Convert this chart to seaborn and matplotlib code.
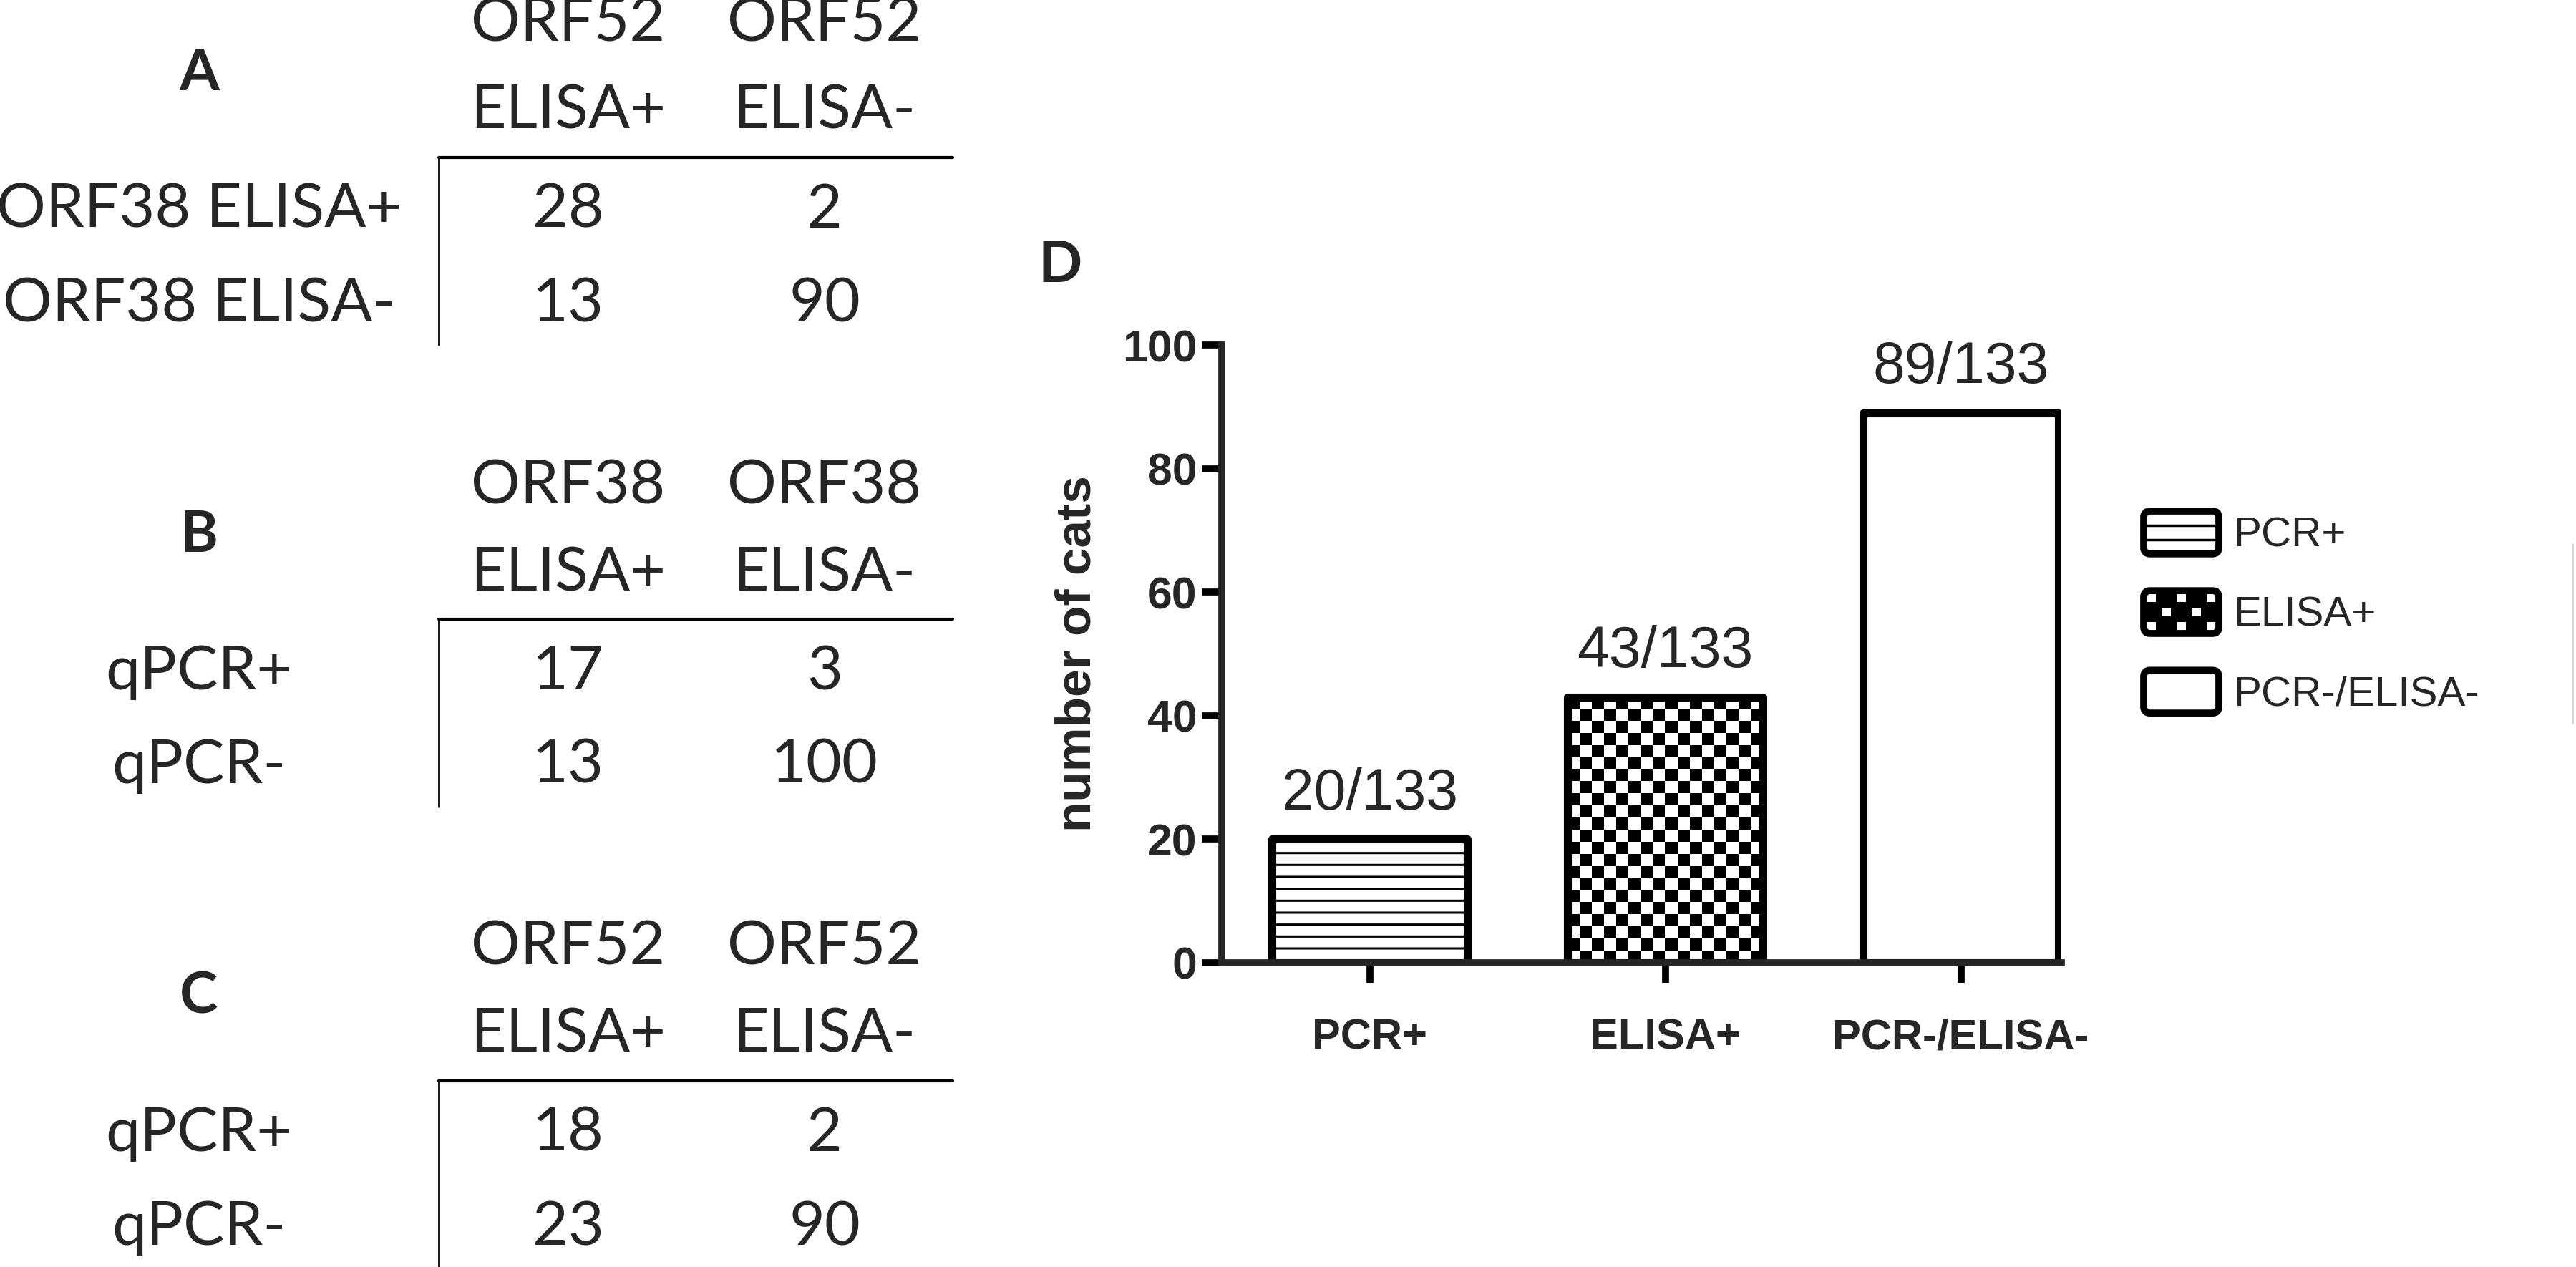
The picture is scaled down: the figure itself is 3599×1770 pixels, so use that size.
import matplotlib
matplotlib.use("Agg")
import matplotlib.pyplot as plt
import seaborn as sns
import numpy as np
import pandas as pd
from matplotlib import font_manager
from matplotlib.patches import FancyBboxPatch, Rectangle
from matplotlib.legend_handler import HandlerBase
from matplotlib.lines import Line2D

# panel D
groups = ["PCR+", "ELISA+", "PCR-/ELISA-"]
n_cats = [20, 43, 89]
n_total = 133
y_ticks = [0, 20, 40, 60, 80, 100]

# panels A-C (2x2 tables)
tab_letters = ["A", "B", "C"]
col_top = [["ORF52", "ORF52"], ["ORF38", "ORF38"], ["ORF52", "ORF52"]]
col_bottom = [["ELISA+", "ELISA-"], ["ELISA+", "ELISA-"], ["ELISA+", "ELISA-"]]
row_heads = [["ORF38 ELISA+", "ORF38 ELISA-"], ["qPCR+", "qPCR-"], ["qPCR+", "qPCR-"]]
counts = [[[28, 2], [13, 90]], [[17, 3], [13, 100]], [[18, 2], [23, 90]]]

sns.set_style("ticks")
plt.rcParams["font.family"] = ["Liberation Sans", "DejaVu Sans"]
plt.rcParams["hatch.linewidth"] = 2.2

# the prism text in the original is a bit condensed
try:
    font_manager.findfont("Liberation Sans Narrow", fallback_to_default=False)
    chart_font = ["Liberation Sans Narrow", "Liberation Sans"]
    fs = dict(ytick=52, xtick=50, ylab=60, ann=66, leg=50)
except ValueError:
    chart_font = ["Liberation Sans", "DejaVu Sans"]
    fs = dict(ytick=45, xtick=43, ylab=50, ann=58, leg=42)

W, H = 3599, 1770
fig = plt.figure(figsize=(W / 100, H / 100), dpi=100)

# ---- tables, drawn on a full-figure axes in pixel units
bg = fig.add_axes([0, 0, 1, 1])
bg.set_xlim(0, W)
bg.set_ylim(H, 0)
bg.axis("off")

tab_font = ["Lato", "DejaVu Sans"]
tfs = 62
col_x = [794, 1152]
lab_x = 278
for k in range(3):
    y0 = 645 * k
    bg.text(lab_x, 103 + y0, tab_letters[k], ha="center", va="center",
            fontsize=58, fontweight="bold", family=tab_font)
    for j in range(2):
        bg.text(col_x[j], 34 + y0, col_top[k][j], ha="center", va="center",
                fontsize=tfs, family=tab_font)
        bg.text(col_x[j], 156 + y0, col_bottom[k][j], ha="center", va="center",
                fontsize=tfs, family=tab_font)
    bg.plot([613, 1331], [220 + y0, 220 + y0], color="black", lw=3)
    bg.plot([613, 613], [220 + y0, 482 + y0], color="black", lw=2)
    for i, ry in enumerate([294, 425]):
        bg.text(lab_x, ry + y0, row_heads[k][i], ha="center", va="center",
                fontsize=tfs, family=tab_font)
        for j in range(2):
            bg.text(col_x[j], ry + y0, str(counts[k][i][j]), ha="center",
                    va="center", fontsize=tfs, family=tab_font)

bg.text(1481, 371, "D", ha="center", va="center", fontsize=58,
        fontweight="bold", family=tab_font)
bg.plot([3594, 3594], [760, 1010], color="#d4d4d4", lw=2)

# ---- bar chart
ax = fig.add_axes([1707 / W, 1 - 1345 / H, (2880 - 1707) / W, (1345 - 482) / H])
ax.patch.set_alpha(0)
df = pd.DataFrame({"group": groups, "cats": n_cats})
sns.barplot(data=df, x="group", y="cats", hue="group", palette=["white"] * 3,
            saturation=1, edgecolor="black", linewidth=8, width=0.66,
            legend=False, ax=ax)

for p in ax.patches:
    p.set_joinstyle("round")
ax.patches[0].set_hatch("-")

ax.set_xlim(-0.5, 2.34)
ax.set_ylim(0, 100)
ax.set_yticks(y_ticks)

# checkerboard fill for the ELISA+ bar
bar = ax.patches[1]
x0, bw, bh = bar.get_x(), bar.get_width(), bar.get_height()
p0 = ax.transData.transform((x0, 0))
p1 = ax.transData.transform((x0 + bw, bh))
nx = int(round((p1[0] - p0[0]) / 17))
ny = int(round((p1[1] - p0[1]) / 17))
checker = np.add.outer(np.arange(ny), np.arange(nx)) % 2
im = ax.imshow(checker, cmap="gray", vmin=0, vmax=1, extent=(x0, x0 + bw, 0, bh),
               aspect="auto", interpolation="nearest", zorder=0.5)
im.set_clip_path(bar)
bar.set_facecolor("none")
ax.set_xlim(-0.5, 2.34)
ax.set_ylim(0, 100)

for p, v in zip(ax.patches, n_cats):
    ax.annotate(f"{v}/{n_total}", (p.get_x() + p.get_width() / 2, v),
                xytext=(0, 30), textcoords="offset points", ha="center",
                va="baseline", fontsize=fs["ann"], family=chart_font)

sns.despine(ax=ax)
for s in ["left", "bottom"]:
    ax.spines[s].set_linewidth(7)
    ax.spines[s].set_capstyle("projecting")
ax.tick_params(axis="both", length=20, width=7, color="black")
ax.tick_params(axis="y", pad=5, labelsize=fs["ytick"])
ax.tick_params(axis="x", pad=36, labelsize=fs["xtick"])
for t in ax.get_xticklabels() + ax.get_yticklabels():
    t.set_fontweight("bold")
    t.set_family(chart_font)
ax.set_xlabel("")
ax.set_ylabel("number of cats", fontsize=fs["ylab"], fontweight="bold",
              labelpad=22, family=chart_font)


class BoxHandler(HandlerBase):
    def __init__(self, style):
        super().__init__()
        self.style = style

    def create_artists(self, legend, orig_handle, xdescent, ydescent, width,
                       height, fontsize, trans):
        x, y = -xdescent, -ydescent
        arts = []
        if self.style == "checker":
            nxc, nyc = 5, 3
            cw, ch = width / nxc, height / nyc
            arts.append(Rectangle((x, y), width, height, facecolor="black",
                                  edgecolor="none", transform=trans))
            for i in range(nyc):
                for j in range(nxc):
                    if (i + j) % 2 == 0:
                        arts.append(Rectangle((x + j * cw + cw * 0.2, y + i * ch + ch * 0.2),
                                              cw * 0.6, ch * 0.6, facecolor="white",
                                              edgecolor="none", transform=trans))
        if self.style == "lines":
            for f in (1 / 3, 2 / 3):
                arts.append(Line2D([x, x + width], [y + f * height] * 2,
                                   color="black", lw=2.5, transform=trans))
        arts.append(FancyBboxPatch((x, y), width, height,
                                   boxstyle=f"round,pad=0,rounding_size={height * 0.15}",
                                   facecolor="none", edgecolor="black",
                                   linewidth=7, transform=trans))
        return arts


styles = ["lines", "checker", "plain"]
handles = [Rectangle((0, 0), 1, 1) for _ in groups]
leg = ax.legend(handles, groups,
                handler_map={h: BoxHandler(s) for h, s in zip(handles, styles)},
                loc="upper left", bbox_to_anchor=(2995 / W, 1 - 714 / H),
                bbox_transform=fig.transFigure, frameon=False,
                prop={"family": chart_font, "size": fs["leg"]},
                handlelength=105 / (fs["leg"] * 100 / 72),
                handleheight=70 / (fs["leg"] * 100 / 72), handletextpad=0.35,
                labelspacing=0.85, borderpad=0, borderaxespad=0)

fig.savefig("out.png", dpi=100)
